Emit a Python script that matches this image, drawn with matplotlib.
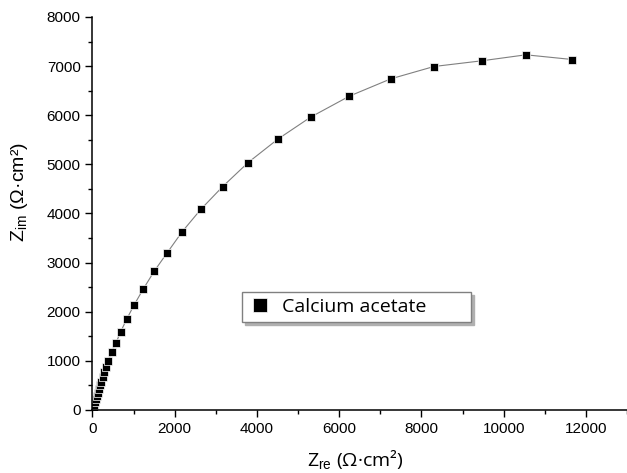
# Nyquist plot - calcium acetate
import matplotlib.pyplot as plt
from matplotlib.ticker import MultipleLocator

# Z_re and Z_im (Ohm cm^2)
z_re = [12, 25, 40, 60, 80, 100, 125, 150, 180, 210, 245, 285, 330, 386,
        468, 573, 687, 834, 1012, 1232, 1500, 1820, 2183, 2639, 3166, 3785,
        4507, 5305, 6249, 7256, 8305, 9468, 10541, 11671]
z_im = [20, 55, 100, 160, 220, 280, 350, 420, 500, 580, 670, 770, 880, 1004,
        1181, 1371, 1595, 1853, 2138, 2458, 2824, 3204, 3631, 4088, 4548, 5037,
        5513, 5961, 6389, 6741, 6992, 7108, 7230, 7134]
label = "Calcium acetate"

plt.rcParams["font.family"] = ["Liberation Sans", "DejaVu Sans"]
plt.rcParams["mathtext.fontset"] = "custom"
plt.rcParams["mathtext.rm"] = "Liberation Sans"

fig = plt.figure(figsize=(6.27, 4.73), dpi=100)
ax = fig.add_axes([0.1475, 0.1332, 0.8525, 0.8309])

ax.plot(z_re, z_im, "-", color="#808080", lw=0.8)
ax.plot(z_re, z_im, "s", color="black", ms=5.5, mec="white", mew=0.5,
        linestyle="none", label=label)

ax.set_xlim(0, 13000)
ax.set_ylim(0, 8000)
ax.xaxis.set_major_locator(MultipleLocator(2000))
ax.xaxis.set_minor_locator(MultipleLocator(1000))
ax.yaxis.set_major_locator(MultipleLocator(1000))
ax.yaxis.set_minor_locator(MultipleLocator(500))
ax.tick_params(which="major", direction="out", length=5, width=1, labelsize=11)
ax.tick_params(which="minor", direction="out", length=3, width=1)

for s in ["top", "right"]:
    ax.spines[s].set_visible(False)
for s in ["left", "bottom"]:
    ax.spines[s].set_linewidth(1.1)

ax.set_xlabel(r"Z$_{\mathrm{re}}$ (Ω·cm²)", fontsize=14, family="Open Sans",
              va="center")
ax.xaxis.set_label_coords(0.491, -0.128)
ax.set_ylabel(r"Z$_{\mathrm{im}}$ (Ω·cm²)", fontsize=14, va="center")
ax.yaxis.set_label_coords(-0.136, 0.555)

leg = ax.legend(loc="center", bbox_to_anchor=(0.386, 0.315, 0.365, 0.072),
                bbox_transform=fig.transFigure, mode="expand", borderaxespad=0,
                prop={"family": "Open Sans", "size": 14}, markerscale=1.9,
                frameon=True, fancybox=False, shadow={"color": "#b0b0b0", "alpha": 1},
                handlelength=1.3, handletextpad=0.45, borderpad=0.3)
leg.get_frame().set_edgecolor("#808080")
leg.get_frame().set_linewidth(1)

plt.savefig("out.png", dpi=100)
